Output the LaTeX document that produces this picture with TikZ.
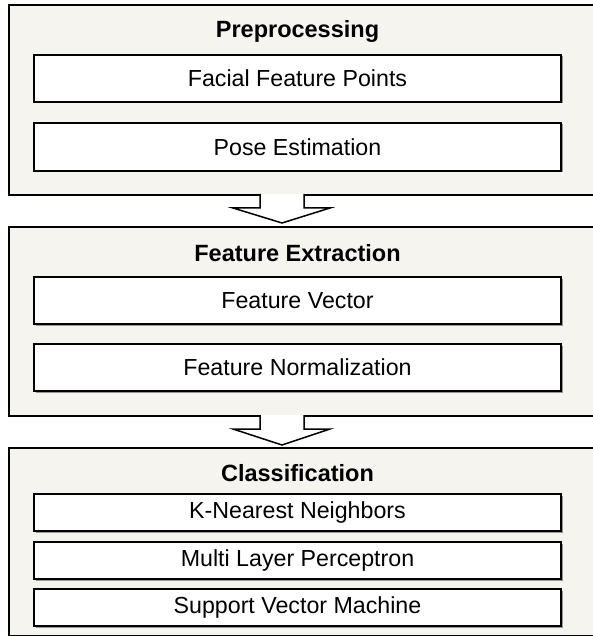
\documentclass[tikz,border=0pt]{standalone}
\usepackage{fontspec}
\setmainfont{Liberation Sans}
\usetikzlibrary{calc}
\definecolor{panelbg}{RGB}{245,244,238}
\definecolor{shadowgray}{RGB}{150,150,150}
\tikzset{
  panel/.style={draw=black, line width=1.6pt, fill=panelbg, inner sep=0pt, anchor=north west},
  itembox/.style={draw=black, line width=1.6pt, fill=white, inner sep=0pt, minimum width=527pt,
    font=\fontsize{23.2}{27}\selectfont},
  titletext/.style={font=\fontsize{23.5}{27}\selectfont\bfseries, inner sep=0pt},
  flowarrow/.style={draw=black, line width=1.5pt, fill=white, line join=miter},
}
\newcommand{\itemrect}[4]{%
  % #1 name, #2 top y, #3 bottom y, #4 text
  \fill[shadowgray] (35.5,#2+1.5) rectangle (562.5,#3+1.5);
  \node[itembox, minimum height=#3-#2] (#1) at (297.5,{(#2+#3)/2}) {#4};
}
\begin{document}
\begin{tikzpicture}[x=1pt,y=-1pt]
\useasboundingbox (0,0) rectangle (592,636);
\fill[white] (0,0) rectangle (592,636);
% panels
\node[panel, minimum width=585pt, minimum height=190pt] (p1) at (8,4) {};
\node[panel, minimum width=585pt, minimum height=189pt] (p2) at (8,226) {};
\node[panel, minimum width=585pt, minimum height=188pt] (p3) at (8,447) {};
% titles
\node[titletext] (t1) at (297.5,31) {Preprocessing};
\node[titletext] (t2) at (297.5,253) {Feature Extraction};
\node[titletext] (t3) at (297.5,473) {Classification};
% items
\itemrect{a1}{55}{102}{Facial Feature Points}
\itemrect{a2}{123}{171}{Pose Estimation}
\itemrect{b1}{277}{324}{Feature Vector}
\itemrect{b2}{344}{391}{Feature Normalization}
\itemrect{c1}{494}{531}{K-Nearest Neighbors}
\itemrect{c2}{542}{579}{Multi Layer Perceptron}
\itemrect{c3}{589}{626}{Support Vector Machine}
% arrows
\coordinate (s1) at (282,194);
\coordinate (s2) at (282,415);
\draw[flowarrow] ($(s1)+(-22,0)$) -- ++(0,14) -- ++(-27,0) -- ($(p2.north west -| s1)+(0,-3)$) -- ($(s1)+(48,14)$) -- ++(-26,0) -- ++(0,-14);
\draw[flowarrow] ($(s2)+(-22,0)$) -- ++(0,14) -- ++(-27,0) -- ($(p3.north west -| s2)+(0,-2)$) -- ($(s2)+(48,14)$) -- ++(-26,0) -- ++(0,-14);
\end{tikzpicture}
\end{document}
